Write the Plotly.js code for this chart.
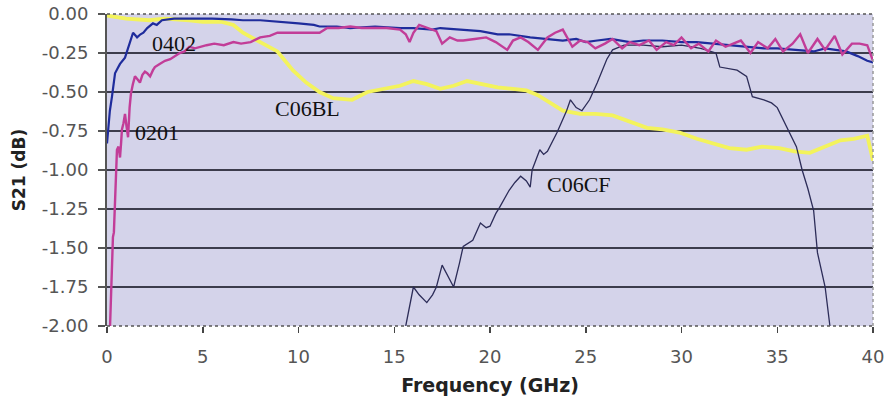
<!DOCTYPE html>
<html>
<head>
<meta charset="utf-8">
<script src="https://cdn.plot.ly/plotly-3.0.1.min.js"></script>
<style>html,body{margin:0;padding:0;background:#fff;}#chart{width:885px;height:400px;}</style>
</head>
<body>
<div id="chart"></div>
<script>
// ---- data ----
const x0402 = [0,0.05,0.15,0.26,0.42,0.55,0.68,0.94,1.1,1.25,1.36,1.5,1.57,1.75,1.9,2.1,2.4,2.6,2.87,3.5,4.5,5.5,6.5,7.1,8,9.2,10,10.8,11.1,12,12.7,14,15.3,16,17,17.4,18.5,19.5,20.4,21,22.1,23,23.8,24.5,25,25.6,26.3,27.3,28,29,30,30.8,31.6,32.5,33.5,34.3,35,36,36.9,37.5,38.6,39.2,39.7,40];
const y0402 = [-0.83,-0.75,-0.62,-0.53,-0.38,-0.35,-0.32,-0.28,-0.22,-0.16,-0.12,-0.14,-0.15,-0.13,-0.12,-0.09,-0.06,-0.07,-0.04,-0.03,-0.03,-0.03,-0.035,-0.04,-0.04,-0.05,-0.06,-0.07,-0.08,-0.08,-0.09,-0.08,-0.09,-0.09,-0.10,-0.09,-0.10,-0.11,-0.13,-0.13,-0.15,-0.16,-0.17,-0.16,-0.18,-0.17,-0.16,-0.18,-0.17,-0.17,-0.18,-0.18,-0.19,-0.20,-0.21,-0.22,-0.22,-0.23,-0.24,-0.22,-0.24,-0.27,-0.30,-0.31];

const x0201 = [0.16,0.2,0.24,0.28,0.31,0.36,0.42,0.48,0.52,0.6,0.68,0.74,0.78,0.86,0.94,1.02,1.1,1.18,1.25,1.35,1.46,1.6,1.72,1.85,1.98,2.1,2.25,2.4,2.5,2.75,3.03,3.3,3.55,3.8,4.05,4.3,4.6,4.86,5.2,5.6,6.1,6.6,7.0,7.5,8.0,8.5,8.9,9.5,10.1,11.1,11.5,12.1,12.7,13.3,13.9,14.6,15.3,15.6,15.8,16.0,16.3,16.7,17.0,17.2,17.5,17.9,18.3,18.6,19.2,19.8,20.3,20.9,21.2,21.6,22.0,22.5,23.0,23.4,23.8,24.3,24.7,25.1,25.5,26.0,26.4,26.9,27.3,27.8,28.3,28.7,29.2,29.6,30.0,30.5,30.9,31.4,31.8,32.3,32.7,33.1,33.6,34.0,34.5,34.9,35.3,35.8,36.2,36.6,37.1,37.5,38.0,38.4,38.9,39.3,39.7,40];
const y0201 = [-2.0,-1.83,-1.6,-1.51,-1.43,-1.40,-1.19,-1.0,-0.87,-0.85,-0.92,-0.82,-0.74,-0.70,-0.64,-0.72,-0.79,-0.6,-0.51,-0.45,-0.40,-0.42,-0.44,-0.39,-0.37,-0.38,-0.40,-0.36,-0.34,-0.32,-0.30,-0.29,-0.27,-0.25,-0.24,-0.21,-0.22,-0.21,-0.20,-0.19,-0.20,-0.18,-0.19,-0.18,-0.15,-0.14,-0.12,-0.12,-0.12,-0.12,-0.09,-0.09,-0.08,-0.09,-0.09,-0.09,-0.10,-0.13,-0.18,-0.12,-0.07,-0.09,-0.10,-0.11,-0.19,-0.15,-0.17,-0.17,-0.16,-0.15,-0.18,-0.23,-0.17,-0.15,-0.18,-0.23,-0.15,-0.12,-0.10,-0.21,-0.17,-0.18,-0.22,-0.19,-0.16,-0.22,-0.18,-0.20,-0.17,-0.23,-0.18,-0.20,-0.15,-0.22,-0.19,-0.24,-0.17,-0.21,-0.19,-0.17,-0.25,-0.18,-0.22,-0.16,-0.24,-0.19,-0.13,-0.25,-0.16,-0.23,-0.14,-0.26,-0.19,-0.19,-0.20,-0.30];

const xC06BL = [0,1,2.2,3,4.3,5,6,6.6,7.1,7.6,8.0,8.9,9.7,10.4,11.1,11.8,12.8,13.6,14.6,15.3,16.0,16.7,17.4,18.1,18.8,19.6,20.4,21.2,21.9,22.5,23.0,23.8,24.7,25.5,26.4,27.3,28.2,29.0,29.9,30.8,31.6,32.5,33.4,34.2,35.1,35.9,36.7,37.5,38.3,39.0,39.7,40];
const yC06BL = [-0.01,-0.03,-0.04,-0.03,-0.04,-0.05,-0.05,-0.07,-0.12,-0.15,-0.18,-0.24,-0.36,-0.44,-0.50,-0.54,-0.55,-0.50,-0.48,-0.46,-0.43,-0.45,-0.48,-0.46,-0.43,-0.45,-0.47,-0.48,-0.49,-0.52,-0.56,-0.62,-0.64,-0.64,-0.65,-0.69,-0.73,-0.74,-0.76,-0.80,-0.83,-0.86,-0.87,-0.85,-0.86,-0.88,-0.89,-0.85,-0.81,-0.80,-0.78,-0.94];

const xC06CF = [15.6,15.8,16.0,16.3,16.7,17.0,17.2,17.5,17.8,18.1,18.4,18.6,19.1,19.3,19.5,19.8,20.0,20.3,20.5,21.0,21.3,21.6,21.9,22.1,22.2,22.6,22.8,23.0,23.5,24.0,24.2,24.5,24.8,25.2,25.6,26.1,26.4,27.0,28.0,29.0,30.0,31.0,31.8,32.0,32.5,32.9,33.4,33.7,34.3,34.7,35.0,35.5,36.0,36.3,36.6,36.9,37.1,37.5,37.75];
const yC06CF = [-2.0,-1.88,-1.75,-1.80,-1.85,-1.80,-1.75,-1.61,-1.68,-1.75,-1.60,-1.49,-1.45,-1.40,-1.34,-1.37,-1.36,-1.28,-1.24,-1.13,-1.08,-1.04,-1.07,-1.11,-1.0,-0.87,-0.90,-0.88,-0.76,-0.62,-0.55,-0.60,-0.62,-0.55,-0.44,-0.29,-0.23,-0.20,-0.20,-0.21,-0.20,-0.22,-0.25,-0.34,-0.35,-0.36,-0.40,-0.53,-0.55,-0.57,-0.60,-0.72,-0.85,-1.0,-1.12,-1.26,-1.53,-1.75,-2.0];

const yTickVals = [0,-0.25,-0.5,-0.75,-1,-1.25,-1.5,-1.75,-2];
const yTickText = ["0.00","-0.25","-0.50","-0.75","-1.00","-1.25","-1.50","-1.75","-2.00"];
const xTickVals = [0,5,10,15,20,25,30,35,40];
const xTickText = ["0","5","10","15","20","25","30","35","40"];

const labels = [
  {text:"0402", x:2.25, y:-0.192},
  {text:"0201", x:1.36, y:-0.76},
  {text:"C06BL", x:8.67, y:-0.603},
  {text:"C06CF", x:22.87, y:-1.093}
];

// ---- chart ----
const traces = [
  {x:xC06BL, y:yC06BL, mode:"lines", line:{color:"#f3f35c", width:3.8}, name:"C06BL"},
  {x:xC06CF, y:yC06CF, mode:"lines", line:{color:"#2c2c58", width:1.3}, name:"C06CF"},
  {x:x0402, y:y0402, mode:"lines", line:{color:"#1f2c9c", width:2.2}, name:"0402"},
  {x:x0201, y:y0201, mode:"lines", line:{color:"#c23d98", width:2.4}, name:"0201"}
];

const tickFont = {family:"DejaVu Sans, Verdana, sans-serif", size:18, color:"#555"};
const titleFont = {family:"DejaVu Sans, Verdana, sans-serif", color:"#222", weight:"bold"};
const layout = {
  width:885, height:400,
  margin:{l:107, r:12, t:14, b:74},
  paper_bgcolor:"#ffffff",
  plot_bgcolor:"#d4d3ea",
  showlegend:false,
  xaxis:{
    range:[0,40], tickvals:xTickVals, ticktext:xTickText,
    ticks:"outside", ticklen:6, tickwidth:1.5, tickcolor:"#444",
    ticklabelstandoff:8,
    showgrid:false, zeroline:false, showline:false,
    tickfont:tickFont,
    title:{text:"Frequency (GHz)", font:Object.assign({size:19}, titleFont), standoff:13}
  },
  yaxis:{
    range:[-2,0], tickvals:yTickVals, ticktext:yTickText,
    ticks:"outside", ticklen:7, tickwidth:1.5, tickcolor:"#555",
    ticklabelstandoff:6,
    showgrid:true, gridcolor:"#3c3c4c", gridwidth:1.6,
    zeroline:false, showline:true, linecolor:"#555", linewidth:2,
    tickfont:tickFont,
    title:{text:"S21 (dB)", font:Object.assign({size:17}, titleFont), standoff:12}
  },
  shapes:[
    {type:"line", xref:"paper", yref:"paper", x0:0, x1:1, y0:1, y1:1, line:{color:"#555", width:1.5, dash:"dot"}},
    {type:"line", xref:"paper", yref:"paper", x0:0, x1:1, y0:0, y1:0, line:{color:"#555", width:1.5, dash:"dot"}},
    {type:"line", xref:"paper", yref:"paper", x0:1, x1:1, y0:0, y1:1, line:{color:"#999", width:1.5, dash:"dot"}}
  ],
  annotations: labels.map(l => ({
    text:l.text, x:l.x, y:l.y, xref:"x", yref:"y", xanchor:"left", yanchor:"middle",
    showarrow:false, font:{family:"Liberation Serif, Times New Roman, serif", size:22, color:"#111"}
  }))
};

Plotly.newPlot("chart", traces, layout, {displayModeBar:false, staticPlot:true});
</script>
</body>
</html>
